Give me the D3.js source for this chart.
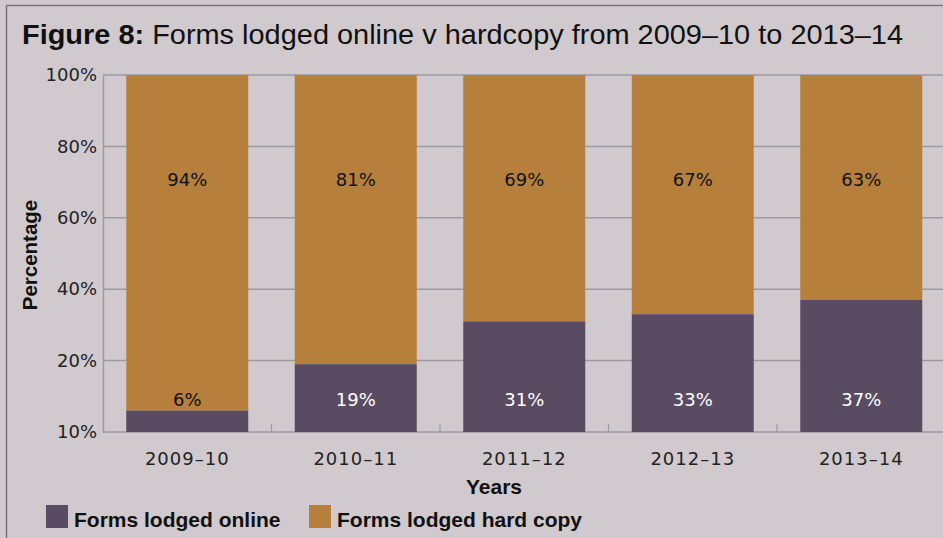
<!DOCTYPE html>
<html>
<head>
<meta charset="utf-8">
<script src="https://cdn.jsdelivr.net/npm/d3@7"></script>
<style>
  body { margin: 0; background: #d0cace; }
  svg { display: block; }
</style>
</head>
<body>
<div id="chart"></div>
<script>
// Chart data
var years = ['2009–10', '2010–11', '2011–12', '2012–13', '2013–14']
var online = [6, 19, 31, 33, 37]
var hardcopy = [94, 81, 69, 67, 63]
var yTicks = [0, 20, 40, 60, 80, 100]
var yTickLabels = ['10%', '20%', '40%', '60%', '80%', '100%']
var seriesNames = ['Forms lodged online', 'Forms lodged hard copy']

var width = 943
var height = 538
var colors = ['#594c62', '#b67f3b']
var tickFont = 'DejaVu Sans, sans-serif'
var boldFont = 'Liberation Sans, Arial, sans-serif'

var svg = d3.select('#chart')
  .append('svg')
  .attr('width', width)
  .attr('height', height)

svg.append('rect')
  .attr('width', width)
  .attr('height', height)
  .attr('fill', '#d0cace')

// frame lines top and left
svg.append('line')
  .attr('x1', 6.5).attr('x2', width).attr('y1', 5.5).attr('y2', 5.5)
  .attr('stroke', '#77727c').attr('stroke-width', 1.5)
svg.append('line')
  .attr('x1', 6.5).attr('x2', 6.5).attr('y1', 5.5).attr('y2', height)
  .attr('stroke', '#77727c').attr('stroke-width', 1.5)

// Title
var title = svg.append('text')
  .attr('x', 22)
  .attr('y', 44)
  .attr('font-family', boldFont)
  .attr('font-size', 28)
  .attr('fill', '#111')
  .attr('textLength', 881)
  .attr('lengthAdjust', 'spacingAndGlyphs')
title.append('tspan').attr('font-weight', 'bold').text('Figure 8:')
title.append('tspan').text(' Forms lodged online v hardcopy from 2009–10 to 2013–14')

// Scales
var xScale = d3.scaleBand()
  .domain(years)
  .range([103, 945.5])
  .paddingInner(0.276)
  .paddingOuter(0.138)

var yScale = d3.scaleLinear()
  .domain([0, 100])
  .range([432, 75])

// gridlines
svg.append('g')
  .selectAll('line')
  .data(yTicks)
  .enter()
  .append('line')
  .attr('x1', 103)
  .attr('x2', width)
  .attr('y1', d => yScale(d))
  .attr('y2', d => yScale(d))
  .attr('stroke', '#9d9a9f')
  .attr('stroke-width', 1.5)

// y axis
var yAxis = d3.axisLeft(yScale)
  .tickValues(yTicks)
  .tickSize(0)
  .tickPadding(6)
  .tickFormat((d, i) => yTickLabels[i])

svg.append('g')
  .attr('transform', 'translate(103, 0)')
  .call(yAxis)
  .call(g => g.select('.domain').attr('stroke', '#9d9a9f').attr('stroke-width', 1.5))
  .call(g => g.selectAll('text')
    .attr('font-family', tickFont)
    .attr('font-size', 18)
    .attr('fill', '#222'))

// x axis ticks between categories
var boundaries = years.slice(1).map(d => xScale(d) - xScale.step() * xScale.paddingInner() / 2)
svg.append('g')
  .selectAll('line')
  .data(boundaries)
  .enter()
  .append('line')
  .attr('x1', d => d)
  .attr('x2', d => d)
  .attr('y1', 424)
  .attr('y2', 432)
  .attr('stroke', '#9d9a9f')
  .attr('stroke-width', 1.2)

var xAxis = d3.axisBottom(xScale).tickSize(0).tickPadding(20)
svg.append('g')
  .attr('transform', 'translate(0, 432)')
  .call(xAxis)
  .call(g => g.select('.domain').remove())
  .call(g => g.selectAll('text')
    .attr('font-family', tickFont)
    .attr('font-size', 18)
    .attr('letter-spacing', 1)
    .attr('fill', '#222'))

// Stacked bars
var dataset = years.map((y, i) => ({ year: y, online: online[i], hardcopy: hardcopy[i] }))

svg.append('g')
  .selectAll('rect')
  .data(dataset)
  .enter()
  .append('rect')
  .attr('x', d => xScale(d.year))
  .attr('width', xScale.bandwidth())
  .attr('y', d => yScale(d.online + d.hardcopy))
  .attr('height', d => yScale(d.online) - yScale(d.online + d.hardcopy))
  .attr('fill', colors[1])

svg.append('g')
  .selectAll('rect')
  .data(dataset)
  .enter()
  .append('rect')
  .attr('x', d => xScale(d.year))
  .attr('width', xScale.bandwidth())
  .attr('y', d => yScale(d.online))
  .attr('height', d => yScale(0) - yScale(d.online))
  .attr('fill', colors[0])

// value labels
svg.append('g')
  .selectAll('text')
  .data(dataset)
  .enter()
  .append('text')
  .attr('x', d => xScale(d.year) + xScale.bandwidth() / 2)
  .attr('y', yScale(70.6))
  .attr('dy', '0.35em')
  .attr('text-anchor', 'middle')
  .attr('font-family', tickFont)
  .attr('font-size', 18)
  .attr('fill', '#111')
  .text(d => d.hardcopy + '%')

svg.append('g')
  .selectAll('text')
  .data(dataset)
  .enter()
  .append('text')
  .attr('x', d => xScale(d.year) + xScale.bandwidth() / 2)
  .attr('y', yScale(9))
  .attr('dy', '0.35em')
  .attr('text-anchor', 'middle')
  .attr('font-family', tickFont)
  .attr('font-size', 18)
  .attr('fill', d => yScale(d.online) < yScale(9) - 10 ? '#fff' : '#111')
  .text(d => d.online + '%')

// Axis titles
svg.append('text')
  .attr('transform', 'translate(37, 255) rotate(-90)')
  .attr('text-anchor', 'middle')
  .attr('font-family', boldFont)
  .attr('font-weight', 'bold')
  .attr('font-size', 20.5)
  .attr('fill', '#111')
  .text('Percentage')

svg.append('text')
  .attr('x', 494)
  .attr('y', 494)
  .attr('text-anchor', 'middle')
  .attr('font-family', boldFont)
  .attr('font-weight', 'bold')
  .attr('font-size', 21)
  .attr('fill', '#111')
  .text('Years')

// Legend
var legendX = [46, 309]
var legend = svg.append('g')
  .selectAll('g')
  .data(seriesNames)
  .enter()
  .append('g')
  .attr('transform', (d, i) => `translate(${legendX[i]}, 505)`)

legend.append('rect')
  .attr('width', 22)
  .attr('height', 23)
  .attr('fill', (d, i) => colors[i])

legend.append('text')
  .attr('x', 28)
  .attr('y', 22)
  .attr('font-family', boldFont)
  .attr('font-weight', 'bold')
  .attr('font-size', 21)
  .attr('fill', '#111')
  .text(d => d)
</script>
</body>
</html>
